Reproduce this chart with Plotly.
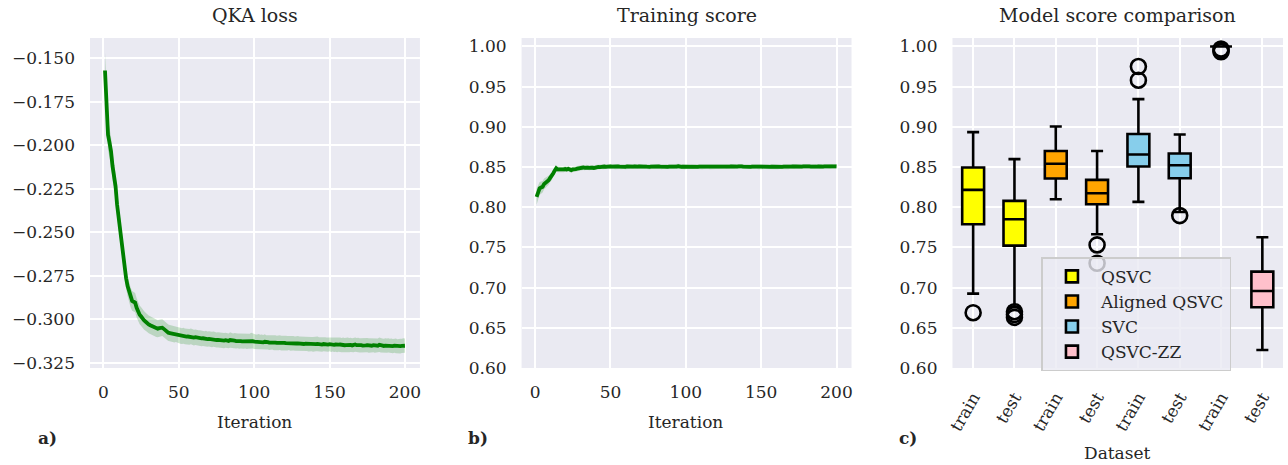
import plotly.graph_objects as go

# ---------------- data ----------------
iterations = list(range(1, 201))

loss_mean = [
    -0.1570, -0.1780, -0.1940, -0.1985, -0.2035, -0.2120, -0.2170, -0.2235, -0.2340, -0.2410,
    -0.2490, -0.2570, -0.2650, -0.2715, -0.2765, -0.2810, -0.2845, -0.2875, -0.2895, -0.2900,
    -0.2905, -0.2935, -0.2960, -0.2975, -0.2985, -0.3000, -0.3008, -0.3015, -0.3025, -0.3030,
    -0.3035, -0.3040, -0.3045, -0.3048, -0.3053, -0.3055, -0.3052, -0.3050, -0.3049, -0.3056,
    -0.3065, -0.3072, -0.3078, -0.3080, -0.3082, -0.3086, -0.3088, -0.3086, -0.3090, -0.3094,
    -0.3096, -0.3098, -0.3095, -0.3099, -0.3101, -0.3100, -0.3102, -0.3099, -0.3103, -0.3106,
    -0.3104, -0.3107, -0.3109, -0.3108, -0.3111, -0.3110, -0.3113, -0.3112, -0.3115, -0.3114,
    -0.3116, -0.3117, -0.3115, -0.3118, -0.3120, -0.3119, -0.3121, -0.3120, -0.3122, -0.3123,
    -0.3121, -0.3124, -0.3125, -0.3120, -0.3123, -0.3125, -0.3124, -0.3126, -0.3125, -0.3127,
    -0.3126, -0.3128, -0.3127, -0.3126, -0.3129, -0.3128, -0.3127, -0.3122, -0.3126, -0.3129,
    -0.3130, -0.3131, -0.3129, -0.3132, -0.3131, -0.3133, -0.3130, -0.3134, -0.3132, -0.3135,
    -0.3134, -0.3133, -0.3136, -0.3135, -0.3137, -0.3136, -0.3135, -0.3138, -0.3137, -0.3136,
    -0.3138, -0.3139, -0.3137, -0.3140, -0.3138, -0.3139, -0.3141, -0.3140, -0.3139, -0.3141,
    -0.3142, -0.3140, -0.3143, -0.3141, -0.3142, -0.3144, -0.3142, -0.3143, -0.3145, -0.3143,
    -0.3144, -0.3142, -0.3145, -0.3144, -0.3146, -0.3143, -0.3145, -0.3147, -0.3146, -0.3144,
    -0.3147, -0.3145, -0.3148, -0.3146, -0.3149, -0.3147, -0.3146, -0.3149, -0.3148, -0.3150,
    -0.3149, -0.3147, -0.3150, -0.3148, -0.3151, -0.3149, -0.3146, -0.3150, -0.3149, -0.3151,
    -0.3150, -0.3152, -0.3149, -0.3151, -0.3150, -0.3152, -0.3151, -0.3153, -0.3150, -0.3152,
    -0.3151, -0.3153, -0.3147, -0.3151, -0.3152, -0.3154, -0.3152, -0.3153, -0.3151, -0.3154,
    -0.3153, -0.3155, -0.3152, -0.3154, -0.3156, -0.3153, -0.3155, -0.3154, -0.3152, -0.3153,
]

loss_std = [
    0.0105, 0.0095, 0.0090, 0.0086, 0.0082, 0.0078, 0.0074, 0.0071, 0.0068, 0.0066,
    0.0064, 0.0062, 0.0061, 0.0060, 0.0059, 0.0058, 0.0058, 0.0057, 0.0057, 0.0056,
    0.0056, 0.0055, 0.0055, 0.0054, 0.0054, 0.0053, 0.0053, 0.0052, 0.0052, 0.0051,
    0.0051, 0.0051, 0.0050, 0.0050, 0.0050, 0.0049, 0.0049, 0.0049, 0.0048, 0.0048,
    0.0048, 0.0048, 0.0047, 0.0047, 0.0047, 0.0047, 0.0046, 0.0046, 0.0046, 0.0046,
    0.0046, 0.0045, 0.0046, 0.0045, 0.0045, 0.0046, 0.0045, 0.0045, 0.0044, 0.0045,
    0.0045, 0.0044, 0.0045, 0.0044, 0.0045, 0.0044, 0.0044, 0.0045, 0.0044, 0.0044,
    0.0044, 0.0045, 0.0044, 0.0044, 0.0043, 0.0044, 0.0044, 0.0043, 0.0044, 0.0044,
    0.0043, 0.0044, 0.0043, 0.0044, 0.0043, 0.0043, 0.0044, 0.0043, 0.0043, 0.0044,
    0.0043, 0.0043, 0.0044, 0.0043, 0.0043, 0.0042, 0.0043, 0.0044, 0.0043, 0.0043,
    0.0042, 0.0043, 0.0043, 0.0042, 0.0043, 0.0042, 0.0043, 0.0042, 0.0042, 0.0043,
    0.0042, 0.0042, 0.0043, 0.0042, 0.0042, 0.0043, 0.0042, 0.0042, 0.0042, 0.0043,
    0.0042, 0.0042, 0.0041, 0.0042, 0.0042, 0.0042, 0.0041, 0.0042, 0.0042, 0.0041,
    0.0042, 0.0042, 0.0041, 0.0042, 0.0041, 0.0042, 0.0042, 0.0041, 0.0042, 0.0041,
    0.0041, 0.0042, 0.0041, 0.0041, 0.0042, 0.0041, 0.0041, 0.0042, 0.0041, 0.0041,
    0.0042, 0.0041, 0.0041, 0.0041, 0.0042, 0.0041, 0.0041, 0.0041, 0.0042, 0.0041,
    0.0041, 0.0042, 0.0041, 0.0041, 0.0041, 0.0042, 0.0041, 0.0041, 0.0042, 0.0041,
    0.0041, 0.0041, 0.0042, 0.0041, 0.0041, 0.0042, 0.0041, 0.0041, 0.0041, 0.0042,
    0.0041, 0.0041, 0.0042, 0.0041, 0.0041, 0.0041, 0.0042, 0.0041, 0.0041, 0.0041,
    0.0042, 0.0041, 0.0041, 0.0042, 0.0041, 0.0041, 0.0042, 0.0041, 0.0042, 0.0041,
]

score_mean = [
    0.8130, 0.8180, 0.8235, 0.8245, 0.8255, 0.8290, 0.8305, 0.8310, 0.8335, 0.8365,
    0.8385, 0.8420, 0.8455, 0.8485, 0.8470, 0.8468, 0.8472, 0.8465, 0.8470, 0.8475,
    0.8470, 0.8478, 0.8466, 0.8462, 0.8470, 0.8468, 0.8475, 0.8480, 0.8485, 0.8495,
    0.8492, 0.8494, 0.8490, 0.8496, 0.8492, 0.8489, 0.8494, 0.8491, 0.8488, 0.8495,
    0.8498, 0.8502, 0.8500, 0.8504, 0.8501, 0.8506, 0.8503, 0.8507, 0.8505, 0.8508,
    0.8504, 0.8507, 0.8503, 0.8506, 0.8508, 0.8504, 0.8502, 0.8506, 0.8505, 0.8503,
    0.8507, 0.8504, 0.8506, 0.8502, 0.8505, 0.8508, 0.8503, 0.8505, 0.8507, 0.8504,
    0.8501, 0.8503, 0.8506, 0.8504, 0.8499, 0.8502, 0.8505, 0.8507, 0.8503, 0.8506,
    0.8504, 0.8508, 0.8505, 0.8503, 0.8507, 0.8510, 0.8505, 0.8503, 0.8506, 0.8504,
    0.8507, 0.8505, 0.8509, 0.8506, 0.8511, 0.8504, 0.8502, 0.8506, 0.8505, 0.8503,
    0.8507, 0.8505, 0.8503, 0.8506, 0.8504, 0.8508, 0.8505, 0.8503, 0.8506, 0.8504,
    0.8502, 0.8505, 0.8507, 0.8504, 0.8506, 0.8503, 0.8505, 0.8508, 0.8504, 0.8506,
    0.8503, 0.8505, 0.8507, 0.8504, 0.8506, 0.8509, 0.8505, 0.8503, 0.8506, 0.8508,
    0.8505, 0.8507, 0.8510, 0.8506, 0.8508, 0.8512, 0.8509, 0.8505, 0.8503, 0.8506,
    0.8504, 0.8506, 0.8503, 0.8505, 0.8507, 0.8504, 0.8506, 0.8503, 0.8505, 0.8504,
    0.8502, 0.8505, 0.8503, 0.8506, 0.8504, 0.8502, 0.8505, 0.8503, 0.8506, 0.8504,
    0.8502, 0.8504, 0.8503, 0.8501, 0.8504, 0.8502, 0.8505, 0.8503, 0.8506, 0.8504,
    0.8507, 0.8505, 0.8508, 0.8506, 0.8509, 0.8507, 0.8505, 0.8508, 0.8510, 0.8507,
    0.8505, 0.8508, 0.8506, 0.8509, 0.8507, 0.8510, 0.8506, 0.8508, 0.8505, 0.8508,
    0.8506, 0.8509, 0.8507, 0.8505, 0.8508, 0.8506, 0.8509, 0.8507, 0.8508, 0.8507,
]

score_std = [
    0.0100, 0.0085, 0.0080, 0.0076, 0.0072, 0.0068, 0.0064, 0.0060, 0.0056, 0.0052,
    0.0048, 0.0044, 0.0040, 0.0037, 0.0036, 0.0035, 0.0035, 0.0034, 0.0034, 0.0034,
    0.0033, 0.0033, 0.0033, 0.0033, 0.0032, 0.0032, 0.0032, 0.0032, 0.0032, 0.0031,
    0.0031, 0.0031, 0.0031, 0.0031, 0.0031, 0.0030, 0.0031, 0.0030, 0.0030, 0.0031,
    0.0030, 0.0030, 0.0030, 0.0030, 0.0030, 0.0030, 0.0030, 0.0030, 0.0030, 0.0030,
    0.0030, 0.0029, 0.0030, 0.0030, 0.0029, 0.0030, 0.0030, 0.0029, 0.0030, 0.0030,
    0.0029, 0.0030, 0.0029, 0.0030, 0.0030, 0.0029, 0.0030, 0.0029, 0.0030, 0.0029,
    0.0030, 0.0029, 0.0030, 0.0029, 0.0029, 0.0030, 0.0029, 0.0030, 0.0029, 0.0029,
    0.0030, 0.0029, 0.0029, 0.0030, 0.0029, 0.0029, 0.0030, 0.0029, 0.0029, 0.0030,
    0.0029, 0.0029, 0.0030, 0.0029, 0.0029, 0.0029, 0.0030, 0.0029, 0.0029, 0.0030,
    0.0029, 0.0029, 0.0029, 0.0030, 0.0029, 0.0029, 0.0029, 0.0030, 0.0029, 0.0029,
    0.0029, 0.0030, 0.0029, 0.0029, 0.0029, 0.0030, 0.0029, 0.0029, 0.0029, 0.0030,
    0.0029, 0.0029, 0.0029, 0.0030, 0.0029, 0.0029, 0.0029, 0.0030, 0.0029, 0.0029,
    0.0029, 0.0030, 0.0029, 0.0029, 0.0029, 0.0030, 0.0029, 0.0029, 0.0029, 0.0030,
    0.0029, 0.0029, 0.0029, 0.0030, 0.0029, 0.0029, 0.0029, 0.0030, 0.0029, 0.0029,
    0.0029, 0.0030, 0.0029, 0.0029, 0.0029, 0.0030, 0.0029, 0.0029, 0.0029, 0.0030,
    0.0029, 0.0029, 0.0029, 0.0030, 0.0029, 0.0029, 0.0029, 0.0030, 0.0029, 0.0029,
    0.0029, 0.0030, 0.0029, 0.0029, 0.0029, 0.0030, 0.0029, 0.0029, 0.0029, 0.0030,
    0.0029, 0.0029, 0.0029, 0.0030, 0.0029, 0.0029, 0.0029, 0.0030, 0.0029, 0.0029,
    0.0029, 0.0030, 0.0029, 0.0029, 0.0029, 0.0030, 0.0029, 0.0029, 0.0029, 0.0030,
]

# box-plot statistics (two boxes per model: train, test)
models = ["QSVC", "Aligned QSVC", "SVC", "QSVC-ZZ"]
model_colors = ["#FFFF00", "#FFA500", "#87CEEB", "#FFC0CB"]
box_positions = [[0, 1], [2, 3], [4, 5], [6, 7]]
box_upper = [[0.8934, 0.8598], [0.9004, 0.8700], [0.9345, 0.8904], [1.0000, 0.7627]]
box_q3 = [[0.8494, 0.8079], [0.8700, 0.8340], [0.8910, 0.8668], [1.0000, 0.7199]]
box_median = [[0.8216, 0.7851], [0.8540, 0.8174], [0.8655, 0.8523], [1.0000, 0.6958]]
box_q1 = [[0.7789, 0.7522], [0.8357, 0.8037], [0.8506, 0.8361], [1.0000, 0.6755]]
box_lower = [[0.6925, 0.6760], [0.8100, 0.7664], [0.8067, 0.7940], [1.0000, 0.6224]]

outlier_x = [0, 1, 1, 1, 3, 3, 4, 4, 5, 6, 6, 6]
outlier_y = [0.6688, 0.6700, 0.6665, 0.6630, 0.7531, 0.7303,
             0.9750, 0.9580, 0.7896, 0.9967, 0.9950, 0.9935]

dataset_ticks = ["train", "test", "train", "test", "train", "test", "train", "test"]

iter_ticks = [0, 50, 100, 150, 200]
loss_ticks = [-0.325, -0.300, -0.275, -0.250, -0.225, -0.200, -0.175, -0.150]
score_ticks = [0.60, 0.65, 0.70, 0.75, 0.80, 0.85, 0.90, 0.95, 1.00]

# ---------------- figure ----------------
FONT = "DejaVu Serif"
TXT = "#262626"
BG = "#EAEAF2"
GREEN = "#008000"
BAND = "rgba(0,128,0,0.2)"

fig = go.Figure()


def add_band(x, mean, std, xa, ya):
    upper = [m + s for m, s in zip(mean, std)]
    lower = [m - s for m, s in zip(mean, std)]
    fig.add_trace(go.Scatter(x=x, y=upper, mode="lines", line=dict(width=0),
                             xaxis=xa, yaxis=ya, showlegend=False, hoverinfo="skip"))
    fig.add_trace(go.Scatter(x=x, y=lower, mode="lines", line=dict(width=0),
                             fill="tonexty", fillcolor=BAND,
                             xaxis=xa, yaxis=ya, showlegend=False, hoverinfo="skip"))
    fig.add_trace(go.Scatter(x=x, y=mean, mode="lines", line=dict(color=GREEN, width=3.8),
                             xaxis=xa, yaxis=ya, showlegend=False))


add_band(iterations, loss_mean, loss_std, "x", "y")
add_band(iterations, score_mean, score_std, "x2", "y2")

for name, col, pos, up, q3, med, q1, lo in zip(models, model_colors, box_positions,
                                                box_upper, box_q3, box_median, box_q1, box_lower):
    fig.add_trace(go.Box(
        x=pos, q1=q1, median=med, q3=q3, lowerfence=lo, upperfence=up,
        name=name, fillcolor=col, line=dict(color="black", width=2.6),
        width=0.53, whiskerwidth=0.55, boxpoints=False,
        xaxis="x3", yaxis="y3", showlegend=True,
    ))

fig.add_trace(go.Scatter(
    x=outlier_x, y=outlier_y, mode="markers",
    marker=dict(symbol="circle-open", size=15, color="black", line=dict(width=2.6, color="black")),
    xaxis="x3", yaxis="y3", showlegend=False,
))

L, R, T, B = 90, 4.7, 38, 97
W, H = 1288, 465
PW = W - L - R
PH = H - T - B


def px(xpix):
    return (xpix - L) / PW


def py(ypix):
    return (H - B - ypix) / PH


axis_common = dict(
    showgrid=True, gridcolor="white", gridwidth=1.6, zeroline=False, showline=False,
    ticks="", tickfont=dict(family=FONT, size=17, color=TXT),
)


def fmt_minus(v, nd):
    s = f"{abs(v):.{nd}f}"
    return ("\u2212" + s) if v < 0 else s


fig.update_layout(
    width=W, height=H,
    margin=dict(l=L, r=R, t=T, b=B),
    paper_bgcolor="white", plot_bgcolor=BG,
    font=dict(family=FONT, color=TXT, size=17),
    showlegend=True,
    xaxis=dict(domain=[0, px(420)], range=[-8.95, 209.95], tickvals=iter_ticks,
               ticktext=[str(v) for v in iter_ticks], anchor="y", ticklabelstandoff=12, **axis_common),
    yaxis=dict(domain=[0, 1], range=[-0.3281, -0.1383], tickvals=loss_ticks,
               ticktext=[fmt_minus(v, 3) for v in loss_ticks], anchor="x", ticklabelstandoff=14, **axis_common),
    xaxis2=dict(domain=[px(521.7), px(851.7)], range=[-8.95, 209.95], tickvals=iter_ticks,
                ticktext=[str(v) for v in iter_ticks], anchor="y2", ticklabelstandoff=12, **axis_common),
    yaxis2=dict(domain=[0, 1], range=[0.6, 1.0105], tickvals=score_ticks,
                ticktext=[f"{v:.2f}" for v in score_ticks], anchor="x2", ticklabelstandoff=14, **axis_common),
    xaxis3=dict(domain=[px(952.7), 1], range=[-0.5, 7.5], tickvals=list(range(len(dataset_ticks))),
                ticktext=dataset_ticks, tickangle=-60, anchor="y3", ticklabelstandoff=15, **axis_common),
    yaxis3=dict(domain=[0, 1], range=[0.6, 1.0105], tickvals=score_ticks,
                ticktext=[f"{v:.2f}" for v in score_ticks], anchor="x3", ticklabelstandoff=14, **axis_common),
    legend=dict(
        x=px(1041.7), y=py(257.3), xanchor="left", yanchor="top",
        bgcolor="rgba(234,234,242,0.8)", bordercolor="#cccccc", borderwidth=1.5,
        font=dict(family=FONT, size=17, color=TXT), traceorder="normal",
        itemwidth=48,
    ),
)

annotations = [
    dict(text="QKA loss", x=px(255), y=py(15)),
    dict(text="Training score", x=px(686.7), y=py(15)),
    dict(text="Model score comparison", x=px(1117.5), y=py(15)),
]
for a in annotations:
    fig.add_annotation(xref="paper", yref="paper", showarrow=False,
                       xanchor="center", yanchor="middle",
                       font=dict(family=FONT, size=19, color=TXT), **a)

labels = [
    dict(text="Iteration", x=px(255), y=py(421.7)),
    dict(text="Iteration", x=px(686), y=py(421.7)),
    dict(text="Dataset", x=px(1117.5), y=py(452.7)),
    dict(text="<b>a)</b>", x=px(47), y=py(438)),
    dict(text="<b>b)</b>", x=px(478.5), y=py(438)),
    dict(text="<b>c)</b>", x=px(908.5), y=py(438)),
]
for a in labels:
    fig.add_annotation(xref="paper", yref="paper", showarrow=False,
                       xanchor="center", yanchor="middle",
                       font=dict(family=FONT, size=17, color=TXT), **a)

fig.write_html("out.html",
               config={"displayModeBar": False},
               post_script="document.body.style.margin='0px';document.body.style.overflow='hidden';")
